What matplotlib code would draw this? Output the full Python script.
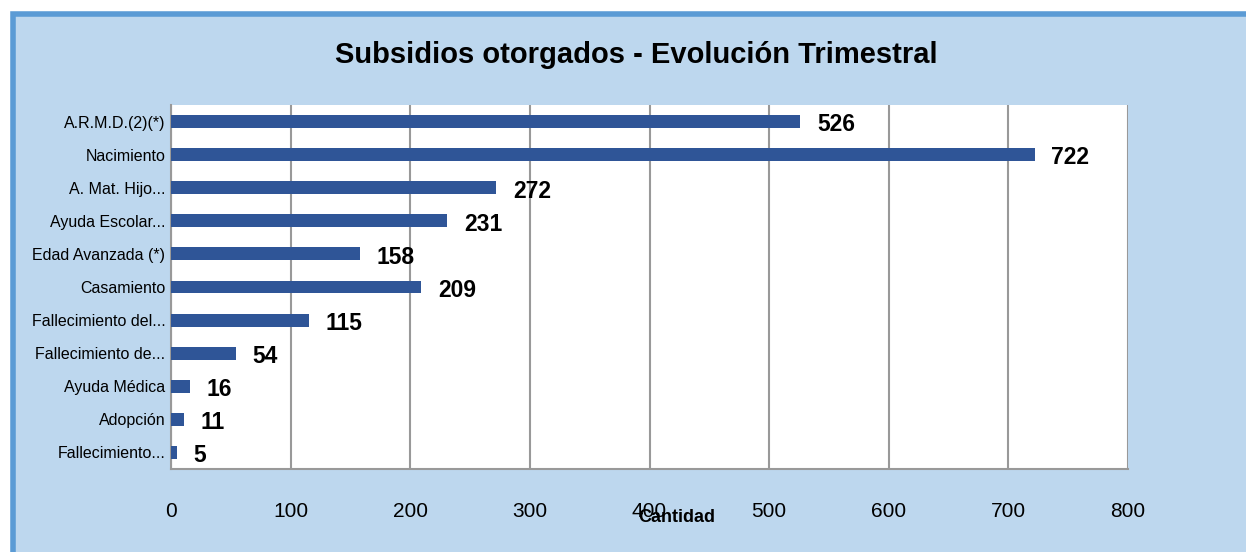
import numpy as np
import matplotlib.pyplot as plt
from matplotlib.patches import Rectangle

categorias = ['A.R.M.D.(2)(*)', 'Nacimiento', 'A. Mat. Hijo...', 'Ayuda Escolar...',
              'Edad Avanzada (*)', 'Casamiento', 'Fallecimiento del...',
              'Fallecimiento de...', 'Ayuda Médica', 'Adopción', 'Fallecimiento...']
cantidades = [526, 722, 272, 231, 158, 209, 115, 54, 16, 11, 5]
ticks_x = [0, 100, 200, 300, 400, 500, 600, 700, 800]

plt.rcParams['font.family'] = ['Liberation Sans', 'DejaVu Sans']

fig = plt.figure(figsize=(12.46, 5.52), dpi=100)
fig.patch.set_facecolor('white')

# marco azul
fig.patches.append(Rectangle((12.5/1246, -0.1), 1.2, 1 - 14/552 + 0.1,
                             transform=fig.transFigure, facecolor='#BDD7EE',
                             edgecolor='#5B9BD5', linewidth=4, zorder=-10))

ax = fig.add_axes([171/1246, 1 - 469/552, (1128 - 171)/1246, (469 - 105)/552])
ax.set_facecolor('white')

y = np.arange(len(categorias))
ax.barh(y, cantidades, height=0.39, color='#2F5597', zorder=3)
for yi, v in zip(y, cantidades):
    ax.text(v + 14, yi + 0.1, str(v), va='center', ha='left',
            fontsize=16.5, fontweight='bold', color='black')

ax.set_xlim(0, 800)
ax.set_ylim(len(categorias) - 0.5, -0.5)
ax.set_yticks(y)
ax.set_yticklabels(categorias, fontsize=11.5)
ax.set_xticks(ticks_x)
ax.set_xticklabels([str(t) for t in ticks_x], fontsize=15)
ax.tick_params(axis='x', length=0, pad=24)
ax.tick_params(axis='y', length=0, pad=4)
ax.grid(axis='x', color='#999999', linewidth=1.5, zorder=0)
for s in ['top', 'right']:
    ax.spines[s].set_visible(False)
ax.spines['left'].set_color('#999999')
ax.spines['bottom'].set_color('#999999')
ax.spines['left'].set_linewidth(1.5)
ax.spines['bottom'].set_linewidth(1.5)

fig.text(677/1246, 1 - 517/552, 'Cantidad', ha='center', va='center',
         fontsize=13, fontweight='bold')
fig.text(636/1246, 1 - 55/552, 'Subsidios otorgados - Evolución Trimestral',
         ha='center', va='center', fontsize=21, fontweight='bold')

fig.savefig('out.png', dpi=100)
